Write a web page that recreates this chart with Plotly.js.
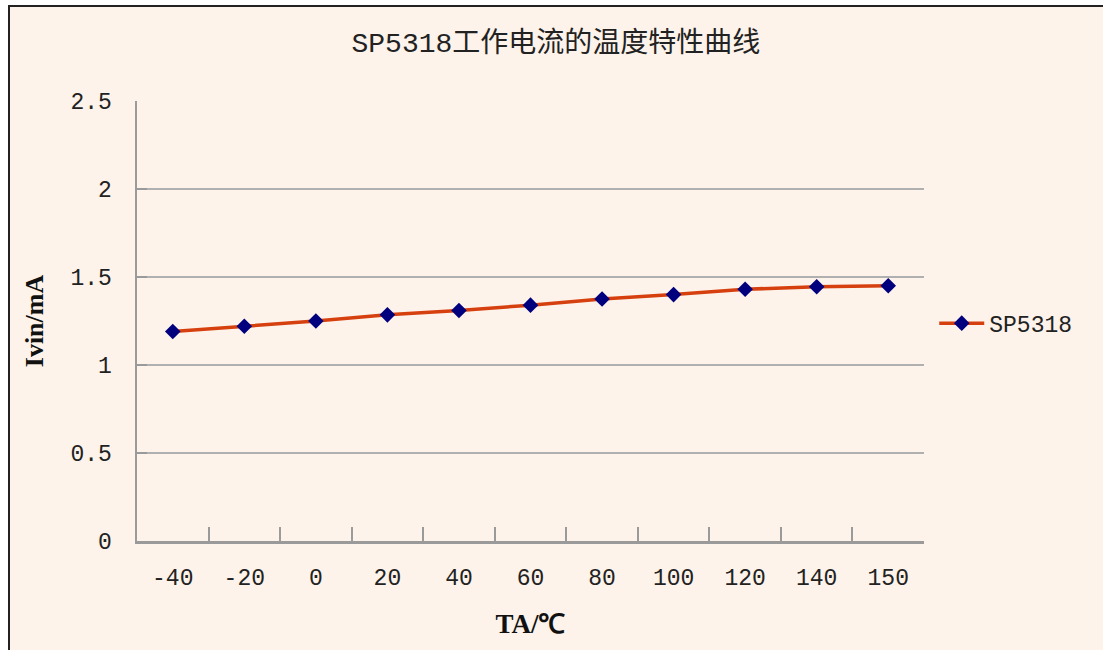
<!DOCTYPE html>
<html>
<head>
<meta charset="utf-8">
<script src="https://cdn.plot.ly/plotly-3.0.1.min.js"></script>
<style>
  html, body { margin: 0; padding: 0; background: #ffffff; width: 1103px; height: 650px; overflow: hidden; }
  #frame { position: absolute; left: 8px; top: 5px; width: 1095px; height: 645px; background: #fdf3ea;
           border-left: 2px solid #222; border-top: 2px solid #222; box-sizing: border-box; }
  #chart { position: absolute; left: 0; top: 0; width: 1103px; height: 650px; }
</style>
</head>
<body>
<div id="frame"></div>
<div id="chart"></div>
<script>
const categories = ["-40", "-20", "0", "20", "40", "60", "80", "100", "120", "140", "150"];
const currentMA = [1.19, 1.22, 1.25, 1.285, 1.31, 1.34, 1.375, 1.40, 1.43, 1.445, 1.45];
const yTicks = [0, 0.5, 1, 1.5, 2, 2.5];
const yTickText = ["0", "0.5", "1", "1.5", "2", "2.5"];
const seriesName = "SP5318";
const titleText = "SP5318工作电流的温度特性曲线";
const xTitle = "TA/℃";
const yTitle = "Ivin/mA";

const monoFont = "Liberation Mono, 'Noto Sans CJK SC', monospace";

const trace = {
  x: categories,
  y: currentMA,
  type: "scatter",
  mode: "lines+markers",
  name: seriesName,
  line: { color: "#d6400f", width: 3.5 },
  marker: { symbol: "diamond", size: 12, color: "#00007f" },
  hoverinfo: "skip"
};

const layout = {
  width: 1103,
  height: 650,
  paper_bgcolor: "rgba(0,0,0,0)",
  plot_bgcolor: "rgba(0,0,0,0)",
  margin: { l: 137, r: 179, t: 101, b: 109 },
  title: {
    text: titleText,
    x: 0.504, xanchor: "center",
    y: 0.935, yanchor: "middle",
    font: { family: monoFont, size: 28, color: "#222" }
  },
  xaxis: {
    type: "category",
    range: [-0.5, 10.5],
    tickson: "boundaries",
    ticks: "inside",
    ticklen: 14,
    tickwidth: 2,
    tickcolor: "#9a9a9a",
    showline: true,
    linecolor: "#9a9a9a",
    linewidth: 2.5,
    showgrid: false,
    zeroline: false,
    ticklabelstandoff: 14,
    tickfont: { family: monoFont, size: 23, color: "#222" },
    title: { text: xTitle, standoff: 23, font: { family: "Liberation Serif, serif", size: 27, color: "#111", weight: "bold" } },
    fixedrange: true
  },
  yaxis: {
    range: [0, 2.5],
    tickvals: yTicks,
    ticktext: yTickText,
    ticks: "inside",
    ticklen: 10,
    tickwidth: 2,
    tickcolor: "#9a9a9a",
    showline: true,
    linecolor: "#9a9a9a",
    linewidth: 2.5,
    showgrid: true,
    gridcolor: "#b0b0b0",
    gridwidth: 2,
    zeroline: false,
    ticklabelstandoff: 18,
    tickfont: { family: monoFont, size: 23, color: "#222" },
    title: { text: yTitle, standoff: 20, font: { family: "Liberation Serif, serif", size: 26, color: "#111", weight: "bold" } },
    fixedrange: true
  },
  showlegend: true,
  legend: {
    x: 1.013, xanchor: "left",
    y: 0.495, yanchor: "middle",
    bgcolor: "rgba(0,0,0,0)",
    font: { family: monoFont, size: 23, color: "#222" },
    itemwidth: 45
  },
  hovermode: false
};

Plotly.newPlot("chart", [trace], layout, { displayModeBar: false, staticPlot: true });
</script>
</body>
</html>
